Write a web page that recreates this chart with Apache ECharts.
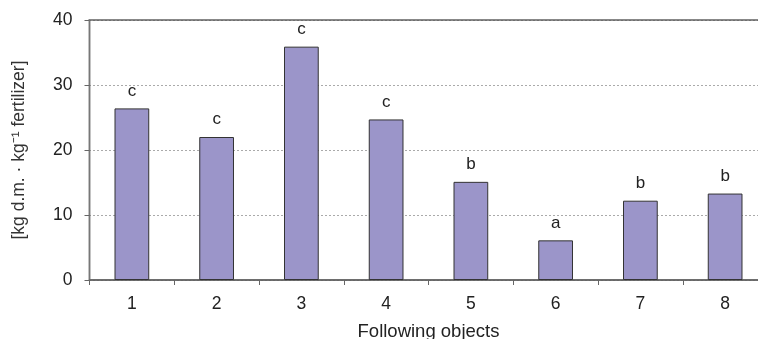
<!DOCTYPE html>
<html>
<head>
<meta charset="utf-8">
<script src="https://cdn.jsdelivr.net/npm/echarts@6/dist/echarts.min.js"></script>
<style>html,body{margin:0;padding:0;background:#fff;}#c{width:758px;height:339px;}</style>
</head>
<body>
<div id="c"></div>
<script>
var categories = ['1', '2', '3', '4', '5', '6', '7', '8'];
var values = [26.4, 22.0, 35.9, 24.7, 15.1, 6.1, 12.2, 13.3];
var letters = ['c', 'c', 'c', 'c', 'b', 'a', 'b', 'b'];
var yTicks = [0, 10, 20, 30, 40];

var chart = echarts.init(document.getElementById('c'), null, {renderer: 'canvas'});
var font = 'Liberation Sans, Arial, sans-serif';
chart.setOption({
  animation: false,
  backgroundColor: '#fff',
  grid: {left: 89.5, top: 20, width: 678, height: 260, outerBoundsMode: 'none', containLabel: false, show: true, borderColor: '#888', borderWidth: 2, backgroundColor: 'transparent'},
  xAxis: {
    type: 'category',
    data: categories,
    name: 'Following objects',
    nameLocation: 'middle',
    nameGap: 42,
    nameTextStyle: {fontFamily: font, fontSize: 18.5, color: '#222'},
    axisLine: {lineStyle: {color: '#666', width: 1.5}},
    axisTick: {show: true, length: 5, lineStyle: {color: '#666'}},
    axisLabel: {fontFamily: font, fontSize: 17.5, color: '#222', margin: 15},
    splitLine: {show: false}
  },
  yAxis: {
    type: 'value',
    min: yTicks[0],
    max: yTicks[yTicks.length - 1],
    interval: 10,
    name: '[kg d.m. \u00b7 kg\u207b\u00b9 fertilizer]',
    nameLocation: 'middle',
    nameRotate: 90,
    nameGap: 61,
    nameTextStyle: {fontFamily: font, fontSize: 17.5, color: '#333'},
    axisLine: {show: true, lineStyle: {color: '#777', width: 1}},
    axisTick: {show: true, length: 5, lineStyle: {color: '#666'}},
    axisLabel: {fontFamily: font, fontSize: 17.5, color: '#222', margin: 17},
    splitLine: {show: true, lineStyle: {color: '#555', type: [1, 3], width: 1}}
  },
  series: [{
    type: 'bar',
    data: values,
    barWidth: '41%',
    itemStyle: {color: '#9b95c9', borderColor: '#333', borderWidth: 1},
    label: {
      show: true,
      position: 'top',
      distance: 9,
      fontFamily: font,
      fontSize: 17,
      color: '#222',
      formatter: function (p) { return letters[p.dataIndex]; }
    }
  }]
});
</script>
</body>
</html>
